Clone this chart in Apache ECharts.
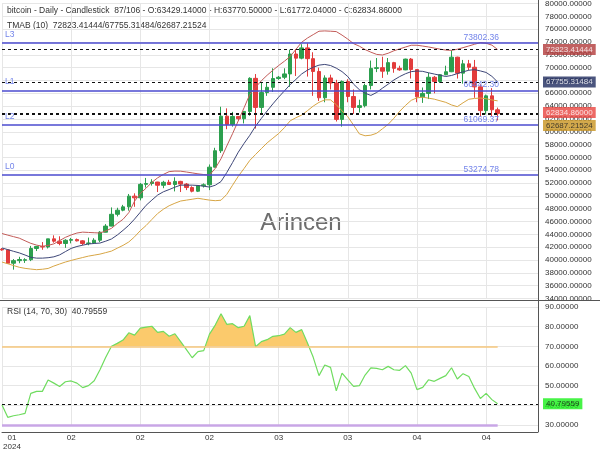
<!DOCTYPE html>
<html>
<head>
<meta charset="utf-8">
<title>bitcoin - Daily - Candlestick</title>
<script src="https://cdn.jsdelivr.net/npm/echarts@6.0.0/dist/echarts.min.js"></script>
<style>
    html, body { margin: 0; padding: 0; background: #fff; }
    #chart { width: 600px; height: 450px; }
</style>
</head>
<body>
<div id="chart"></div>
<script>

// daily bars, 2024-01-21 .. 2024-04-16
const dates = [
    '2024-01-21', '2024-01-22', '2024-01-23', '2024-01-24', '2024-01-25', '2024-01-26', '2024-01-27', '2024-01-28', '2024-01-29', '2024-01-30', '2024-01-31',
    '2024-02-01', '2024-02-02', '2024-02-03', '2024-02-04', '2024-02-05', '2024-02-06', '2024-02-07', '2024-02-08', '2024-02-09', '2024-02-10',
    '2024-02-11', '2024-02-12', '2024-02-13', '2024-02-14', '2024-02-15', '2024-02-16', '2024-02-17', '2024-02-18', '2024-02-19', '2024-02-20',
    '2024-02-21', '2024-02-22', '2024-02-23', '2024-02-24', '2024-02-25', '2024-02-26', '2024-02-27', '2024-02-28', '2024-02-29',
    '2024-03-01', '2024-03-02', '2024-03-03', '2024-03-04', '2024-03-05', '2024-03-06', '2024-03-07', '2024-03-08', '2024-03-09', '2024-03-10',
    '2024-03-11', '2024-03-12', '2024-03-13', '2024-03-14', '2024-03-15', '2024-03-16', '2024-03-17', '2024-03-18', '2024-03-19', '2024-03-20',
    '2024-03-21', '2024-03-22', '2024-03-23', '2024-03-24', '2024-03-25', '2024-03-26', '2024-03-27', '2024-03-28', '2024-03-29', '2024-03-30', '2024-03-31',
    '2024-04-01', '2024-04-02', '2024-04-03', '2024-04-04', '2024-04-05', '2024-04-06', '2024-04-07', '2024-04-08', '2024-04-09', '2024-04-10',
    '2024-04-11', '2024-04-12', '2024-04-13', '2024-04-14', '2024-04-15', '2024-04-16'
];

// [open, close, low, high]
const candles = [
    [41680, 41580, 41450, 41880], [41580, 39500, 39400, 41700], [39500, 39900, 38500, 40150], [39900, 40080, 39500, 40500],
    [39950, 40050, 39550, 40280], [40050, 41800, 39830, 42200], [41800, 42120, 41400, 42200], [42120, 42030, 41600, 42800],
    [42030, 43300, 41800, 43300], [43300, 42940, 42700, 43850], [42940, 42580, 42300, 43700], [42580, 43080, 41900, 43250],
    [43080, 43190, 42600, 43450], [43190, 42990, 42900, 43350], [42990, 42580, 42300, 43100], [42580, 42660, 42300, 43500],
    [42660, 43090, 42600, 43400], [43090, 44340, 42800, 44500], [44340, 45290, 44300, 45600], [45290, 47130, 45250, 48200],
    [47130, 47770, 46800, 48150], [47770, 48290, 47600, 48600], [48290, 49960, 47700, 50300], [49960, 49700, 48300, 50400],
    [49700, 51800, 49300, 52000], [51800, 51930, 51300, 52800], [51930, 52160, 51600, 52600], [52160, 51660, 50600, 52200],
    [51660, 52120, 51200, 52350], [52120, 51780, 51700, 52500], [51780, 52260, 50700, 52900], [52260, 51840, 50600, 52350],
    [51840, 51300, 50900, 52000], [51300, 50730, 50550, 51500], [50730, 51570, 50600, 51700], [51570, 51730, 51300, 51950],
    [51730, 54480, 50900, 54900], [54480, 57040, 54450, 57500], [57040, 62430, 56700, 63900], [62430, 61130, 60400, 63650],
    [61130, 62390, 60800, 63100], [62390, 62030, 61700, 62400], [62030, 63170, 61300, 63200], [63170, 68330, 62500, 68500],
    [68330, 63800, 60500, 69000], [63800, 66110, 62900, 67600], [66110, 66930, 65600, 67600], [66930, 68300, 66200, 69900],
    [68300, 68500, 68100, 68700], [68500, 69020, 68200, 69900], [69020, 72120, 67000, 72800], [72120, 71480, 68700, 72900],
    [71480, 73080, 71300, 73650], [73080, 71400, 68600, 73800], [71400, 69400, 65600, 72400], [69400, 65300, 64800, 70000],
    [65300, 68390, 64600, 68800], [68390, 67610, 66600, 68900], [67610, 61930, 61600, 68100], [61930, 67840, 60800, 68000],
    [67840, 65500, 64600, 68200], [65500, 63800, 62800, 66600], [63800, 64070, 63000, 65000], [64070, 67210, 63800, 67500],
    [67210, 69880, 66600, 71100], [69880, 69990, 69300, 71500], [69990, 69450, 68400, 71700], [69450, 70780, 68900, 71500],
    [70780, 69890, 69200, 70900], [69890, 69650, 69500, 70300], [69650, 71330, 69600, 71400], [71330, 69700, 68300, 71500],
    [69700, 65450, 64600, 69700], [65450, 65980, 64500, 66900], [65980, 68500, 65100, 69200], [68500, 67840, 66000, 68700],
    [67840, 68900, 67600, 69000], [68900, 69360, 68800, 70300], [69360, 71630, 69300, 72700], [71630, 69140, 68300, 71700],
    [69140, 70590, 67500, 71200], [70590, 70060, 69600, 71200], [70060, 67000, 65300, 71200], [67000, 63300, 62400, 67400],
    [63300, 65600, 62700, 65800], [65600, 63429.14, 62400, 66800], [63429.14, 62834.86, 61772.04, 63770.5]
];

// TMA bands (10)
const tmabUpper = [
    44130, 43880, 43645, 43410, 43000, 42600, 42330, 42140, 42280, 42520,
    43035, 43535, 43910, 44210, 44350, 44300, 44255, 44210, 44540, 44945,
    45695, 46350, 47385, 49170, 50375, 51205, 52110, 52815, 53350, 53785,
    53865, 53850, 53725, 53585, 53440, 53330, 53240, 54285, 55790, 57775,
    59700, 61720, 63740, 65835, 66930, 67950, 68810, 69590, 70330, 71000,
    71735, 72850, 73960, 74615, 75150, 75680, 75725, 75680, 75620, 75070,
    74445, 73740, 73350, 72815, 72410, 72065, 71970, 72240, 72630, 72925,
    73210, 73490, 73490, 73365, 73225, 73050, 72880, 72740, 72690, 72865,
    73115, 73380, 73645, 73895, 73800, 73505, 72823.41
];
const tmabMid = [
    41880, 41625, 41360, 41110, 40780, 40420, 40295, 40295, 40360, 40500,
    40800, 41310, 41815, 42110, 42315, 42500, 42580, 42645, 42940, 43285,
    43895, 44630, 45415, 46385, 47450, 48530, 49340, 50125, 50640, 50985,
    51360, 51675, 51675, 51675, 51625, 51515, 51375, 51660, 52235, 53645,
    55195, 56820, 58185, 59450, 60875, 62080, 63240, 64350, 65400, 66370,
    67355, 68170, 69015, 69610, 70060, 70390, 70500, 70330, 69920, 69375,
    68605, 67420, 66570, 66010, 65665, 66120, 66790, 67420, 68075, 68605,
    69045, 69375, 69470, 69420, 69200, 69000, 68810, 68620, 68780, 69075,
    69340, 69590, 69685, 69485, 69250, 68640, 67755.31
];
const tmabLower = [
    39685, 39420, 39140, 38870, 38700, 38590, 38495, 38560, 38685, 39060,
    39375, 39685, 39935, 40170, 40390, 40610, 40765, 40920, 41155, 41390,
    41845, 42285, 42815, 43615, 44585, 45380, 46320, 47245, 47920, 48465,
    48855, 49200, 49340, 49480, 49625, 49480, 49340, 49250, 49325, 50235,
    51660, 53065, 54270, 55540, 56460, 57370, 58260, 59000, 59720, 60640,
    61705, 62190, 62600, 63285, 64005, 64585, 64975, 64975, 64225, 63255,
    62345, 61030, 59670, 59375, 59465, 59765, 60455, 61155, 62110, 63190,
    64100, 64900, 65290, 65385, 65240, 65085, 64835, 64585, 64180, 63910,
    64520, 65070, 65195, 65260, 65150, 64960, 64820
];
const tmabLast = [72823.41444, 67755.31484, 62687.21524];

const rsi = [
    40.2, 33.9, 34.7, 35.2, 35.9, 46.1, 47.1, 47.1, 52.9, 51.3,
    49.6, 52.0, 52.4, 51.3, 49.0, 50.0, 52.5, 58.1, 64.4, 70.0,
    71.5, 73.2, 76.9, 75.7, 79.3, 79.8, 80.2, 77.1, 77.6, 75.1,
    76.4, 72.4, 68.3, 64.2, 67.3, 67.8, 76.2, 80.8, 86.6, 81.2,
    81.5, 79.5, 80.2, 85.6, 69.8, 72.4, 73.4, 75.1, 75.4, 76.2,
    79.5, 77.1, 78.5, 71.7, 64.4, 55.1, 60.5, 59.3, 47.4, 56.4,
    52.9, 49.6, 50.0, 55.4, 59.0, 58.8, 58.1, 59.8, 58.1, 57.8,
    60.2, 56.4, 48.0, 49.1, 53.0, 52.2, 53.7, 55.1, 59.1, 53.4,
    56.1, 54.7, 48.6, 43.5, 46.1, 42.9, 40.79559
];
const rsiUpper = 70;
const rsiLower = 30;

const levelNames = ['L3', 'L1', 'L2', 'L0'];
const levelValues = [73802.36, 66442.30, 61069.37, 53274.78];

const totalBars = 106;
const padSlots = 7;

const categories = dates.concat(Array(padSlots).fill(''));
const lastIdx = categories.length - 1;
const last = candles[candles.length - 1];
const lastClose = last[1];
const rsiLast = rsi[rsi.length - 1];

const gridTick = (i) => i % 12 === 0 && i < dates.length;
const font = 'Liberation Sans, Arial, sans-serif';

const chart = echarts.init(document.getElementById('chart'));

const priceLines = [lastClose, ...tmabLast].map(v => ({ yAxis: v }));

const levelLines = levelValues.map((v, i) => ({
    yAxis: v,
    lineStyle: { color: '#4b4bcf', width: 1.5, type: 'solid' },
    label: {
        show: true,
        formatter: levelNames[i],
        position: 'insideStartTop',
        distance: [3, 4],
        color: '#7384ea',
        fontSize: 8.5
    }
}));

const levelTags = levelValues.map(v => ({
    yAxis: v,
    lineStyle: { color: 'rgba(0,0,0,0)', width: 0 },
    label: {
        show: true,
        formatter: v.toFixed(2),
        position: 'insideEndTop',
        distance: [39, 1],
        color: '#7384ea',
        fontSize: 8.5
    }
}));

const header = 'bitcoin - Daily - Candlestick  ' + dates.length + '/' + totalBars +
    ' - O:' + last[0].toFixed(5) + ' - H:' + last[3].toFixed(5) +
    ' - L:' + last[2].toFixed(5) + ' - C:' + last[1].toFixed(5);

const option = {
    animation: false,
    textStyle: { fontFamily: font },
    grid: [
        { left: 2, right: 62, top: 3.5, height: 295, containLabel: false, outerBoundsMode: 'none' },
        { left: 2, right: 62, top: 307, height: 118, containLabel: false, outerBoundsMode: 'none' }
    ],
    xAxis: [
        {
            type: 'category',
            gridIndex: 0,
            data: categories,
            boundaryGap: false,
            axisLine: { show: false },
            axisTick: { show: false },
            axisLabel: { show: false },
            splitLine: { show: true, interval: gridTick, lineStyle: { color: '#e6e6e6' } }
        },
        {
            type: 'category',
            gridIndex: 1,
            data: categories,
            boundaryGap: false,
            offset: 7,
            axisLine: { show: true, lineStyle: { color: '#555', width: 1 } },
            axisTick: { show: false },
            axisLabel: {
                interval: gridTick,
                fontSize: 8,
                color: '#333',
                margin: 1,
                lineHeight: 9,
                formatter: (value, index) => {
                    const m = value.slice(5, 7);
                    return index === 0
                        ? '{first|' + m + '}\n{first|' + value.slice(0, 4) + '}'
                        : m;
                },
                rich: {
                    first: { fontSize: 8, lineHeight: 9, color: '#333', padding: [0, 0, 0, 20] }
                }
            },
            splitLine: { show: true, interval: gridTick, lineStyle: { color: '#e6e6e6' } }
        }
    ],
    yAxis: [
        {
            type: 'value',
            gridIndex: 0,
            position: 'right',
            min: 34000,
            max: 80000,
            interval: 2000,
            axisLine: { show: false },
            axisTick: { show: false },
            axisLabel: { fontSize: 8, color: '#333', margin: 7, formatter: v => v.toFixed(5) },
            splitLine: { lineStyle: { color: '#e6e6e6' } }
        },
        {
            type: 'value',
            gridIndex: 1,
            position: 'right',
            min: 30,
            max: 90,
            interval: 10,
            axisLine: { show: false },
            axisTick: { show: false },
            axisLabel: { fontSize: 8, color: '#333', margin: 7, formatter: v => v.toFixed(5) },
            splitLine: { lineStyle: { color: '#e6e6e6' } }
        }
    ],
    visualMap: {
        show: false,
        type: 'piecewise',
        seriesIndex: 5,
        dimension: 1,
        pieces: [
            { gt: rsiUpper, lte: 100, color: '#fbca6c' },
            { gte: 0, lte: rsiUpper, color: 'rgba(255,255,255,0)' }
        ]
    },
    graphic: [
        { type: 'text', x: 301, y: 223, z: 0, style: { text: 'Arincen', fontSize: 24, fill: '#6e6e6e', align: 'center', verticalAlign: 'middle', fontFamily: font } },
        { type: 'text', x: 7, y: 6, style: { text: header, fontSize: 8.5, fill: '#333', fontFamily: font } },
        { type: 'text', x: 7, y: 21, style: { text: 'TMAB (10)  ' + tmabLast.map(v => v.toFixed(5)).join('/'), fontSize: 8.5, fill: '#333', fontFamily: font } },
        { type: 'text', x: 7, y: 307, style: { text: 'RSI (14, ' + rsiUpper + ', ' + rsiLower + ')  ' + rsiLast.toFixed(5), fontSize: 8.5, fill: '#333', fontFamily: font } },
        { type: 'line', z: 20, shape: { x1: 0, y1: 300.5, x2: 600, y2: 300.5 }, style: { stroke: '#555', lineWidth: 1 } },
        { type: 'line', z: 20, shape: { x1: 538.5, y1: 0, x2: 538.5, y2: 432 }, style: { stroke: '#555', lineWidth: 1 } }
    ],
    series: [
        {
            name: 'bitcoin',
            type: 'candlestick',
            xAxisIndex: 0,
            yAxisIndex: 0,
            barWidth: 4,
            data: candles,
            itemStyle: {
                color: '#2c9f4e',
                color0: '#e23c3c',
                borderColor: '#2c9f4e',
                borderColor0: '#e23c3c',
                borderWidth: 1
            },
            markLine: {
                symbol: ['none', 'none'],
                silent: true,
                label: { show: false },
                lineStyle: { color: '#111', type: [3, 3], width: 1 },
                data: [...levelLines, ...levelTags, ...priceLines]
            }
        },
        {
            name: 'TMAB upper',
            type: 'line',
            xAxisIndex: 0,
            yAxisIndex: 0,
            data: tmabUpper,
            symbol: 'none',
            lineStyle: { color: '#c25b58', width: 1 }
        },
        {
            name: 'TMAB mid',
            type: 'line',
            xAxisIndex: 0,
            yAxisIndex: 0,
            data: tmabMid,
            symbol: 'none',
            lineStyle: { color: '#3d4677', width: 1 }
        },
        {
            name: 'TMAB lower',
            type: 'line',
            xAxisIndex: 0,
            yAxisIndex: 0,
            data: tmabLower,
            symbol: 'none',
            lineStyle: { color: '#d7a544', width: 1 }
        },
        {
            name: 'price tags',
            type: 'scatter',
            xAxisIndex: 0,
            yAxisIndex: 0,
            symbolSize: 0,
            silent: true,
            clip: false,
            z: 10,
            label: {
                show: true,
                position: 'right',
                distance: 5,
                fontSize: 8,
                padding: [2, 3, 1, 3],
                formatter: p => p.value[1].toFixed(5)
            },
            data: [
                { value: [lastIdx, tmabLast[0]], label: { backgroundColor: '#b23a3a', color: '#fff' } },
                { value: [lastIdx, tmabLast[1]], label: { backgroundColor: '#1e2a5e', color: '#fff' } },
                { value: [lastIdx, lastClose], label: { backgroundColor: '#e8433e', color: '#fff', offset: [0, -1] } },
                // pushed down below the close tag so both stay readable
                { value: [lastIdx, tmabLast[2]], label: { backgroundColor: '#c8931f', color: '#222', offset: [0, 11] } }
            ]
        },
        {
            name: 'RSI fill',
            type: 'line',
            xAxisIndex: 1,
            yAxisIndex: 1,
            data: rsi,
            symbol: 'none',
            silent: true,
            lineStyle: { width: 0 },
            areaStyle: { origin: rsiUpper, opacity: 1 }
        },
        {
            name: 'RSI',
            type: 'line',
            xAxisIndex: 1,
            yAxisIndex: 1,
            data: rsi,
            symbol: 'none',
            z: 3,
            lineStyle: { color: '#6fdc5f', width: 1.2 },
            markLine: {
                symbol: ['none', 'none'],
                silent: true,
                label: { show: false },
                lineStyle: { color: '#111', type: [3, 3], width: 1 },
                data: [
                    [
                        { coord: [0, rsiUpper], lineStyle: { color: '#f6c77c', width: 1.5, type: 'solid' } },
                        { coord: [dates.length - 1, rsiUpper] }
                    ],
                    [
                        { coord: [0, rsiLower], lineStyle: { color: '#c8a6e6', width: 2.5, type: 'solid' } },
                        { coord: [dates.length - 1, rsiLower] }
                    ],
                    { yAxis: rsiLast }
                ]
            }
        },
        {
            name: 'RSI tag',
            type: 'scatter',
            xAxisIndex: 1,
            yAxisIndex: 1,
            symbolSize: 0,
            silent: true,
            clip: false,
            z: 10,
            label: {
                show: true,
                position: 'right',
                distance: 5,
                fontSize: 8,
                padding: [2, 3, 1, 3],
                backgroundColor: '#19f019',
                color: '#111',
                formatter: p => p.value[1].toFixed(5)
            },
            data: [[lastIdx, rsiLast]]
        }
    ]
};

chart.setOption(option);

</script>
</body>
</html>
